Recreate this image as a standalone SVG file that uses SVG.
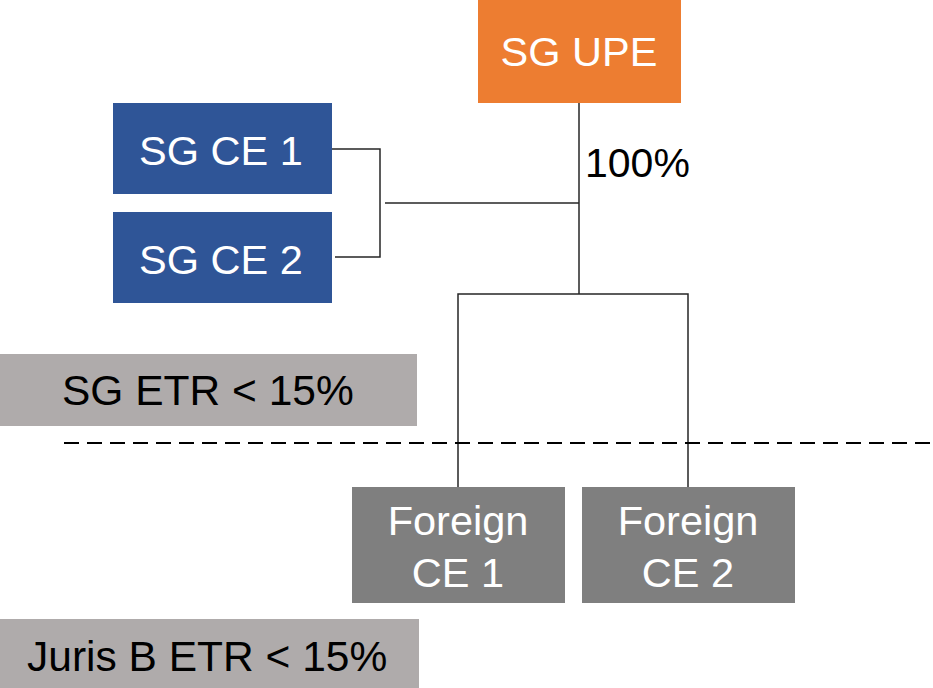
<svg xmlns="http://www.w3.org/2000/svg" width="933" height="688" viewBox="0 0 933 688">
<style>
text{font-family:"Liberation Sans",Arial,sans-serif;font-size:41.5px}
.w{fill:#fff;text-anchor:middle}
.k{fill:#000}
.lb{font-size:42.5px}
.ln{fill:none;stroke:#262626;stroke-width:1.5}
</style>
<rect width="933" height="688" fill="#fff"/>
<g id="connectors">
<line x1="579" y1="103" x2="579" y2="294" class="ln"/>
<polyline points="332,149 380,149 380,257 335,257" class="ln"/>
<line x1="385" y1="203" x2="579" y2="203" class="ln"/>
<polyline points="458,487 458,294 688,294 688,487" class="ln"/>
<line x1="64" y1="443" x2="933" y2="443" stroke="#000" stroke-width="2" stroke-dasharray="15,8"/>
</g>
<g id="upe"><rect x="478" y="0" width="203" height="103" fill="#ED7D31"/><text x="579" y="66" class="w">SG UPE</text></g>
<g id="pct"><text x="585" y="177" class="k" style="font-size:41px">100%</text></g>
<g id="ce1"><rect x="113" y="103" width="219" height="91" fill="#2F5597"/><text x="221" y="165" class="w">SG CE 1</text></g>
<g id="ce2"><rect x="113" y="212" width="219" height="91" fill="#2F5597"/><text x="221" y="274" class="w">SG CE 2</text></g>
<g id="sgetr"><rect x="0" y="354" width="417" height="72" fill="#AFABAB"/><text x="62" y="405" class="k lb">SG ETR &lt; 15%</text></g>
<g id="fce1"><rect x="352" y="487" width="213" height="116" fill="#7F7F7F"/><text x="458" y="535" class="w">Foreign</text><text x="458" y="587" class="w">CE 1</text></g>
<g id="fce2"><rect x="582" y="487" width="213" height="116" fill="#7F7F7F"/><text x="688" y="535" class="w">Foreign</text><text x="688" y="587" class="w">CE 2</text></g>
<g id="jurisb"><rect x="0" y="619" width="419" height="69" fill="#AFABAB"/><text x="27" y="671" class="k lb">Juris B ETR &lt; 15%</text></g>
</svg>
